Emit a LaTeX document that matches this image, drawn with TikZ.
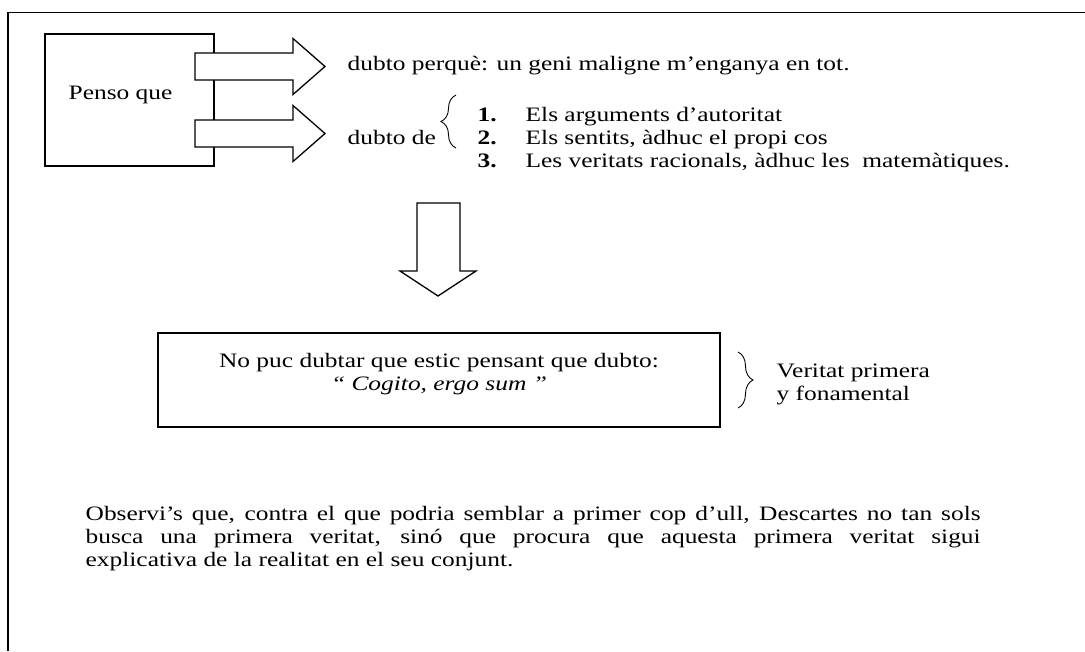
\documentclass[tikz,border=0pt]{standalone}
\usepackage{fontspec}
\setmainfont[FakeStretch=1.24]{Liberation Serif}
\usetikzlibrary{decorations.pathreplacing}
\newcommand\dtsize{\fontsize{20.5}{22.5}\selectfont}
\def\blockarrow(#1){\draw[fill=white] (195,#1-13.5) -- (293,#1-13.5) -- (293,#1-28) -- (325,#1) -- (293,#1+28) -- (293,#1+13.5) -- (195,#1+13.5) -- cycle;}

\begin{document}
\begin{tikzpicture}[x=1pt, y=-1pt, line width=1.3pt,
	txt/.style={anchor=base west, inner sep=0pt, font=\dtsize},
	mid/.style={anchor=base, inner sep=0pt, font=\dtsize},
	curly/.style={line width=0.9pt, decorate, decoration={brace, amplitude=15pt}}]
			%%%%% START %%%%%
			\useasboundingbox (0,0) rectangle (1085,651);
			
			\draw[line width=1.5pt] (8,651) -- (8,12.5) -- (1085,12.5);
			
			\draw (45,34) rectangle (214,166);
			\node[txt] (penso) at (68,99) {Penso que};
			\blockarrow(66.5)
			\blockarrow(133.5)
			
			\node[txt] (perque) at (347,70) {dubto perquè: un geni maligne m’enganya en tot.};
			\node[txt] (dubtode) at (347,144) {dubto de};
			\draw[curly] (456,148) -- (456,95);
			
			\node[txt] (n1) at (477,121) {\textbf{1.}};
			\node[txt] (n2) at (477,144) {\textbf{2.}};
			\node[txt] (n3) at (477,167) {\textbf{3.}};
			\node[txt] (arguments) at (525,121) {Els arguments d’autoritat};
			\node[txt] (sentits) at (525,144) {Els sentits, àdhuc el propi cos};
			\node[txt] (racionals) at (525,167) {Les veritats racionals, àdhuc les\ \ matemàtiques.};
			
			\draw[fill=white] (417,203) -- (460,203) -- (460,271) -- (476,271) -- (438,296) -- (400,271) -- (417,271) -- cycle;
			
			\draw (158,333) rectangle (720,427);
			\node[mid] (nopuc) at (439,367) {No puc dubtar que estic pensant que dubto:};
			\node[mid] (cogito) at (439,390) {\textit{“ Cogito, ergo sum ”}};
			\draw[curly] (738,352) -- (738,408);
			\node[txt] (veritat) at (776,377) {Veritat primera};
			\node[txt] (fonamental) at (776,400) {y fonamental};
			
			\node[txt] (nota1) at (85,520) {\makebox[895pt][s]{Observi’s que, contra el que podria semblar a primer cop d’ull, Descartes no tan sols}};
			\node[txt] (nota2) at (85,543) {\makebox[895pt][s]{busca una primera veritat, sinó que procura que aquesta primera veritat sigui}};
			\node[txt] (nota3) at (85,566) {explicativa de la realitat en el seu conjunt.};
			%%%%% END %%%%%
\end{tikzpicture}
\end{document}
